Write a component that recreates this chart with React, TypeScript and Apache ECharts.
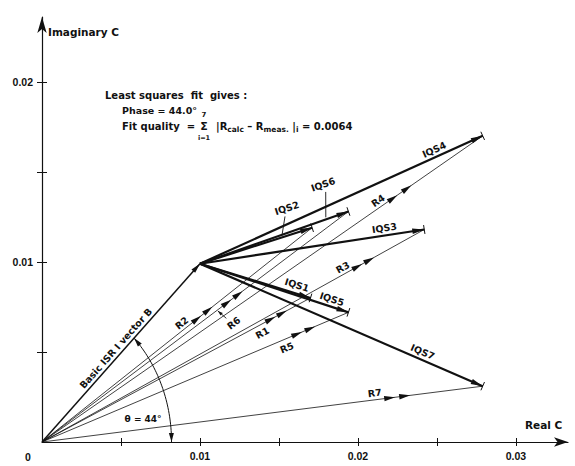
import React, { useEffect, useRef } from 'react';
import * as echarts from 'echarts';

// ---- data ----
const vectorIds = ['1', '2', '3', '4', '5', '6', '7'];
const basicB = [0.01, 0.0099]; // Basic ISR I vector B (real, imaginary)
const rReal = [0.0170, 0.0171, 0.0242, 0.0279, 0.0194, 0.0194, 0.0279];
const rImag = [0.0080, 0.0119, 0.0118, 0.0170, 0.0072, 0.0128, 0.0031];
const xTickValues = [0.005, 0.01, 0.015, 0.02, 0.025, 0.03];
const xLabelValues = [0.01, 0.02, 0.03];
const yTickValues = [0.005, 0.01, 0.015, 0.02];
const yLabelValues = [0.01, 0.02];
const phaseDeg = 44.0;
const fitQuality = 0.0064;

// ---- layout ----
const X_MAX = 0.0333;
const Y_MAX = 0.0236;
const ARC_R = 0.0082;
const FONT = '"DejaVu Sans", "Liberation Sans", sans-serif';
const NUM_FONT = '"Liberation Sans", Arial, sans-serif';
const INK = '#111';

type Vec = { kind: 'B' | 'IQS' | 'R'; from: number[]; to: number[]; label: string };
const vectors: Vec[] = [
  { kind: 'B', from: [0, 0], to: basicB, label: 'Basic ISR I vector B' },
  ...rReal.map((x, i) => ({ kind: 'IQS' as const, from: basicB, to: [x, rImag[i]], label: 'IQS' + vectorIds[i] })),
  ...rReal.map((x, i) => ({ kind: 'R' as const, from: [0, 0], to: [x, rImag[i]], label: 'R' + vectorIds[i] })),
];

// label placement: t = fraction along vector, off = px perpendicular (+ = above/left)
const labelLayout: Record<string, { t: number; off: number; ptr?: number[]; arrowPtr?: boolean }> = {
  B: { t: 0.5, off: 7 },
  IQS1: { t: 0.855, off: 8.5 },
  IQS2: { t: 0.846, off: 26.5, ptr: [0.81, 19, 0.737, 2] },
  IQS3: { t: 0.827, off: 7.5 },
  IQS4: { t: 0.839, off: 7.5 },
  IQS5: { t: 0.873, off: 7.5 },
  IQS6: { t: 0.905, off: 34, ptr: [0.905, 26, 0.852, 2] },
  IQS7: { t: 0.777, off: 7.7 },
  R1: { t: 0.806, off: -8 },
  R2: { t: 0.532, off: 6.5 },
  R3: { t: 0.795, off: 6.5 },
  R4: { t: 0.771, off: 6.5 },
  R5: { t: 0.788, off: -8.4 },
  R6: { t: 0.586, off: -20, ptr: [0.578, -12, 0.572, -1], arrowPtr: true },
  R7: { t: 0.757, off: 7 },
};
const rArrowFractions: Record<string, number[]> = {
  R1: [0.851, 0.894],
  R2: [0.573, 0.615],
  R3: [0.825, 0.856],
  R4: [0.796, 0.828],
  R5: [0.832, 0.875],
  R6: [0.603, 0.64],
  R7: [0.789, 0.823],
};

function headPts(tip: number[], ux: number, uy: number, L: number, w: number) {
  const nx = uy, ny = -ux;
  const bx = tip[0] - ux * L, by = tip[1] - uy * L;
  return [tip, [bx + (nx * w) / 2, by + (ny * w) / 2], [bx - (nx * w) / 2, by - (ny * w) / 2]];
}

const txt = (text: string, x: number, y: number, size: number, extra: any = {}) => ({
  type: 'text',
  x,
  y,
  style: { text, fontFamily: FONT, fontSize: size, fontWeight: 'bold', fill: INK, verticalAlign: 'middle', ...extra },
});

export default function App() {
  const ref = useRef<HTMLDivElement>(null);
  useEffect(() => {
    if (!ref.current) return;
    document.body.style.margin = '0';
    const chart = echarts.init(ref.current, undefined, { renderer: 'svg' });

    const renderVector = (params: any, api: any) => {
      const v = vectors[params.dataIndex];
      const p0 = api.coord(v.from);
      const p1 = api.coord(v.to);
      const dx = p1[0] - p0[0], dy = p1[1] - p0[1];
      const len = Math.hypot(dx, dy);
      const ux = dx / len, uy = dy / len;
      const nx = uy, ny = -ux;
      const at = (t: number, off: number) => [p0[0] + ux * len * t + nx * off, p0[1] + uy * len * t + ny * off];
      const children: any[] = [];
      const lw = v.kind === 'R' ? 0.8 : v.kind === 'IQS' ? 2.2 : 1.5;
      children.push({
        type: 'line',
        shape: { x1: p0[0], y1: p0[1], x2: p1[0], y2: p1[1] },
        style: { stroke: INK, lineWidth: lw },
      });
      if (v.kind === 'B') {
        children.push({ type: 'polygon', shape: { points: headPts(p1, ux, uy, 10, 5) }, style: { fill: INK } });
      } else if (v.kind === 'IQS') {
        children.push({ type: 'polygon', shape: { points: headPts(p1, ux, uy, 12, 5.5) }, style: { fill: INK } });
        children.push({
          type: 'line',
          shape: { x1: p1[0] + nx * 4.5, y1: p1[1] + ny * 4.5, x2: p1[0] - nx * 4.5, y2: p1[1] - ny * 4.5 },
          style: { stroke: INK, lineWidth: 1 },
        });
      } else {
        (rArrowFractions[v.label] || []).forEach((f) => {
          const c = at(f, 0);
          const tip = [c[0] + ux * 5.5, c[1] + uy * 5.5];
          children.push({ type: 'polygon', shape: { points: headPts(tip, ux, uy, 11, 5.5) }, style: { fill: INK } });
        });
      }
      const key = v.kind === 'B' ? 'B' : v.label;
      const lay = labelLayout[key];
      if (lay) {
        const pos = at(lay.t, lay.off);
        children.push({
          type: 'text',
          x: pos[0],
          y: pos[1],
          rotation: -Math.atan2(uy, ux),
          style: {
            text: v.label,
            fontFamily: FONT,
            fontSize: 9.5,
            fontWeight: 'bold',
            fill: INK,
            align: 'center',
            verticalAlign: 'middle',
          },
        });
        if (lay.ptr) {
          const a = at(lay.ptr[0], lay.ptr[1]);
          const b = at(lay.ptr[2], lay.ptr[3]);
          children.push({
            type: 'line',
            shape: { x1: a[0], y1: a[1], x2: b[0], y2: b[1] },
            style: { stroke: INK, lineWidth: 0.9 },
          });
          if (lay.arrowPtr) {
            const ddx = b[0] - a[0], ddy = b[1] - a[1];
            const dl = Math.hypot(ddx, ddy);
            children.push({
              type: 'polygon',
              shape: { points: headPts(b, ddx / dl, ddy / dl, 5, 3.5) },
              style: { fill: INK },
            });
          }
        }
      }
      return { type: 'group', children };
    };

    const renderArc = (_params: any, api: any) => {
      const endAng = Math.atan2(basicB[1], basicB[0]);
      const pts: number[][] = [];
      const n = 40;
      for (let i = 0; i <= n; i++) {
        const a = (endAng * i) / n;
        pts.push(api.coord([ARC_R * Math.cos(a), ARC_R * Math.sin(a)]));
      }
      const children: any[] = [
        { type: 'polyline', shape: { points: pts }, style: { stroke: INK, lineWidth: 1, fill: 'none' } },
      ];
      const last = pts[n], prev = pts[n - 2];
      let ddx = last[0] - prev[0], ddy = last[1] - prev[1];
      let dl = Math.hypot(ddx, ddy);
      children.push({ type: 'polygon', shape: { points: headPts(last, ddx / dl, ddy / dl, 9, 5) }, style: { fill: INK } });
      const first = pts[0], second = pts[2];
      ddx = first[0] - second[0];
      ddy = first[1] - second[1];
      dl = Math.hypot(ddx, ddy);
      children.push({ type: 'polygon', shape: { points: headPts(first, ddx / dl, ddy / dl, 9, 5) }, style: { fill: INK } });
      const mid = api.coord([ARC_R * 0.82 * Math.cos(0.2), ARC_R * 0.82 * Math.sin(0.2)]);
      children.push({
        type: 'text',
        x: mid[0] - 3,
        y: mid[1] + 1,
        style: {
          text: 'θ = ' + phaseDeg.toFixed(0) + '°',
          fontFamily: FONT,
          fontSize: 9,
          fontWeight: 'bold',
          fill: INK,
          align: 'center',
          verticalAlign: 'middle',
        },
      });
      return { type: 'group', children };
    };

    const axisLineStyle = { color: INK, width: 1.2 };
    const labelStyle = { fontFamily: NUM_FONT, fontSize: 10.5, fontWeight: 'bold', color: INK };

    chart.setOption({
      animation: false,
      backgroundColor: '#fff',
      grid: { left: 42, right: 7, top: 17, bottom: 24, containLabel: false },
      xAxis: [
        {
          type: 'value',
          min: 0,
          max: X_MAX,
          position: 'bottom',
          axisLine: { show: true, onZero: false, symbol: ['none', 'arrow'], symbolSize: [7, 14], lineStyle: axisLineStyle },
          axisTick: { show: true, customValues: xTickValues, length: 4, lineStyle: { color: INK, width: 1 } },
          axisLabel: { show: true, customValues: xLabelValues, formatter: (v: number) => v.toFixed(2), margin: 8, ...labelStyle },
          splitLine: { show: false },
        },
        {
          type: 'value',
          min: 0,
          max: X_MAX,
          position: 'bottom',
          axisLine: { show: false, onZero: false },
          axisTick: { show: true, inside: true, customValues: xTickValues, length: 4, lineStyle: { color: INK, width: 1 } },
          axisLabel: { show: false },
          splitLine: { show: false },
        },
      ],
      yAxis: [
        {
          type: 'value',
          min: 0,
          max: Y_MAX,
          position: 'left',
          axisLine: { show: true, onZero: false, symbol: ['none', 'arrow'], symbolSize: [7, 16], lineStyle: axisLineStyle },
          axisTick: { show: true, customValues: yTickValues, length: 5, lineStyle: { color: INK, width: 1 } },
          axisLabel: { show: true, customValues: yLabelValues, formatter: (v: number) => v.toFixed(2), margin: 9, ...labelStyle },
          splitLine: { show: false },
        },
        {
          type: 'value',
          min: 0,
          max: Y_MAX,
          position: 'left',
          axisLine: { show: false, onZero: false },
          axisTick: { show: true, inside: true, customValues: yTickValues, length: 5, lineStyle: { color: INK, width: 1 } },
          axisLabel: { show: false },
          splitLine: { show: false },
        },
      ],
      series: [
        {
          type: 'custom',
          name: 'vectors',
          coordinateSystem: 'cartesian2d',
          xAxisIndex: 0,
          yAxisIndex: 0,
          data: vectors.map((v) => [v.to[0], v.to[1]]),
          renderItem: renderVector,
          silent: true,
          clip: false,
        },
        {
          type: 'custom',
          name: 'theta',
          coordinateSystem: 'cartesian2d',
          xAxisIndex: 0,
          yAxisIndex: 0,
          data: [[ARC_R, 0]],
          renderItem: renderArc,
          silent: true,
        },
      ],
      graphic: [
        txt('Imaginary C', 48, 32, 10.5),
        txt('Real C', 525, 425, 10.5),
        txt('0', 28, 457, 10.5, { fontFamily: NUM_FONT, align: 'center' }),
        txt('Least squares  fit  gives :', 105, 95, 10),
        txt('Phase = ' + phaseDeg.toFixed(1) + '°', 122, 110.5, 9.5),
        txt('Fit quality  =', 122, 126.5, 10),
        txt('Σ', 204, 126.5, 11, { align: 'center' }),
        txt('7', 204, 115, 7, { align: 'center' }),
        txt('i=1', 204, 137.5, 6.5, { align: 'center' }),
        {
          type: 'text',
          x: 216,
          y: 126.5,
          style: {
            text: '|R{sub|calc} – R{sub|meas.} |{sub|i} = ' + fitQuality.toFixed(4),
            fontFamily: FONT,
            fontSize: 10,
            fontWeight: 'bold',
            fill: INK,
            verticalAlign: 'middle',
            rich: { sub: { fontFamily: FONT, fontSize: 7.5, fontWeight: 'bold', fill: INK, padding: [6, 0, 0, 0] } },
          },
        },
      ],
    });
    return () => chart.dispose();
  }, []);
  return <div ref={ref} style={{ width: 575, height: 466 }} />;
}
